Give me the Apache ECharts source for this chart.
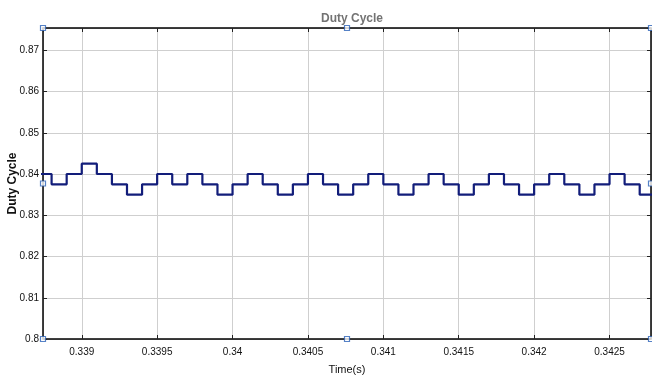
<!DOCTYPE html>
<html>
<head>
<meta charset="utf-8">
<script src="https://cdn.jsdelivr.net/npm/echarts@6/dist/echarts.min.js"></script>
<style>
  html, body { margin: 0; padding: 0; background: #ffffff; }
  #chart { width: 652px; height: 376px; }
</style>
</head>
<body>
<div id="chart"></div>
<script>
// Sample times (s) at which the duty-cycle command changes
var times = [
  0.3387, 0.3388, 0.3389, 0.3390, 0.3391, 0.3392, 0.3393, 0.3394, 0.3395, 0.3396,
  0.3397, 0.3398, 0.3399, 0.3400, 0.3401, 0.3402, 0.3403, 0.3404, 0.3405, 0.3406,
  0.3407, 0.3408, 0.3409, 0.3410, 0.3411, 0.3412, 0.3413, 0.3414, 0.3415, 0.3416,
  0.3417, 0.3418, 0.3419, 0.3420, 0.3421, 0.3422, 0.3423, 0.3424, 0.3425, 0.3426,
  0.3427, 0.3428
];
// Duty-cycle value held from each sample time to the next
var duty = [
  0.84, 0.8375, 0.84, 0.8425, 0.84, 0.8375, 0.835, 0.8375, 0.84, 0.8375,
  0.84, 0.8375, 0.835, 0.8375, 0.84, 0.8375, 0.835, 0.8375, 0.84, 0.8375,
  0.835, 0.8375, 0.84, 0.8375, 0.835, 0.8375, 0.84, 0.8375, 0.835, 0.8375,
  0.84, 0.8375, 0.835, 0.8375, 0.84, 0.8375, 0.835, 0.8375, 0.84, 0.8375,
  0.835, 0.835
];
// Visible axis window
var xRange = [0.338743, 0.342775];
var yRange = [0.8, 0.8754];

var chartTitle = 'Duty Cycle';
var xName = 'Time(s)';
var yName = 'Duty Cycle';

var seriesData = times.map(function (t, i) { return [t, duty[i]]; });

// Selection handles on the axes box: corners and side midpoints
var xMid = (xRange[0] + xRange[1]) / 2;
var yMid = (yRange[0] + yRange[1]) / 2;
var handles = [
  [xRange[0], yRange[1]], [xMid, yRange[1]], [xRange[1], yRange[1]],
  [xRange[0], yMid], [xRange[1], yMid],
  [xRange[0], yRange[0]], [xMid, yRange[0]], [xRange[1], yRange[0]]
];

var sans = '"Liberation Sans", Arial, Helvetica, sans-serif';

function fmt(v) { return String(parseFloat(v.toFixed(5))); }

var chart = echarts.init(document.getElementById('chart'), null, { renderer: 'canvas' });

var axisBase = {
  type: 'value',
  scale: true,
  splitNumber: 8,
  nameMoveOverlap: false,
  axisLine: { show: true, onZero: false, lineStyle: { color: '#000000', width: 1.5 } },
  axisTick: { show: true, inside: true, length: 4, lineStyle: { color: '#222222', width: 1 } }
};

chart.setOption({
  animation: false,
  backgroundColor: '#ffffff',
  title: {
    text: chartTitle,
    left: 347, top: 8,
    textAlign: 'center',
    textStyle: { fontFamily: sans, fontSize: 12, fontWeight: 'bold', color: '#737373' }
  },
  grid: { left: 43, right: 1, top: 28, bottom: 37, containLabel: false, outerBoundsMode: 'none' },
  xAxis: [
    Object.assign({}, axisBase, {
      position: 'bottom',
      min: xRange[0], max: xRange[1],
      name: xName,
      nameLocation: 'middle',
      nameGap: 25,
      nameTextStyle: { fontFamily: sans, fontSize: 11, color: '#111111' },
      axisLabel: {
        show: true, margin: 8, showMinLabel: false, showMaxLabel: false,
        fontFamily: sans, fontSize: 10, color: '#111111', formatter: fmt
      },
      splitLine: { show: true, lineStyle: { color: '#cfcfcf', width: 1 } }
    }),
    Object.assign({}, axisBase, {
      position: 'top',
      min: xRange[0], max: xRange[1],
      axisLabel: { show: false },
      splitLine: { show: false }
    })
  ],
  yAxis: [
    Object.assign({}, axisBase, {
      position: 'left',
      min: yRange[0], max: yRange[1],
      name: yName,
      nameLocation: 'middle',
      nameGap: 24,
      nameRotate: 90,
      nameTextStyle: { fontFamily: sans, fontSize: 12, fontWeight: 'bold', color: '#111111' },
      axisLabel: {
        show: true, margin: 4, showMinLabel: true, showMaxLabel: false,
        fontFamily: sans, fontSize: 10, color: '#111111', formatter: fmt
      },
      splitLine: { show: true, lineStyle: { color: '#cfcfcf', width: 1 } }
    }),
    Object.assign({}, axisBase, {
      position: 'right',
      min: yRange[0], max: yRange[1],
      axisLabel: { show: false },
      splitLine: { show: false }
    })
  ],
  series: [
    {
      type: 'line',
      xAxisIndex: 0, yAxisIndex: 0,
      step: 'end',
      data: seriesData,
      showSymbol: false,
      clip: true,
      lineStyle: { color: '#121d7a', width: 2.2 },
      z: 5
    },
    {
      type: 'scatter',
      xAxisIndex: 0, yAxisIndex: 0,
      data: handles,
      symbol: 'rect',
      symbolSize: 5,
      clip: false,
      itemStyle: { color: '#ffffff', borderColor: '#2a62b8', borderWidth: 1.2 },
      z: 10
    }
  ]
});
</script>
</body>
</html>
